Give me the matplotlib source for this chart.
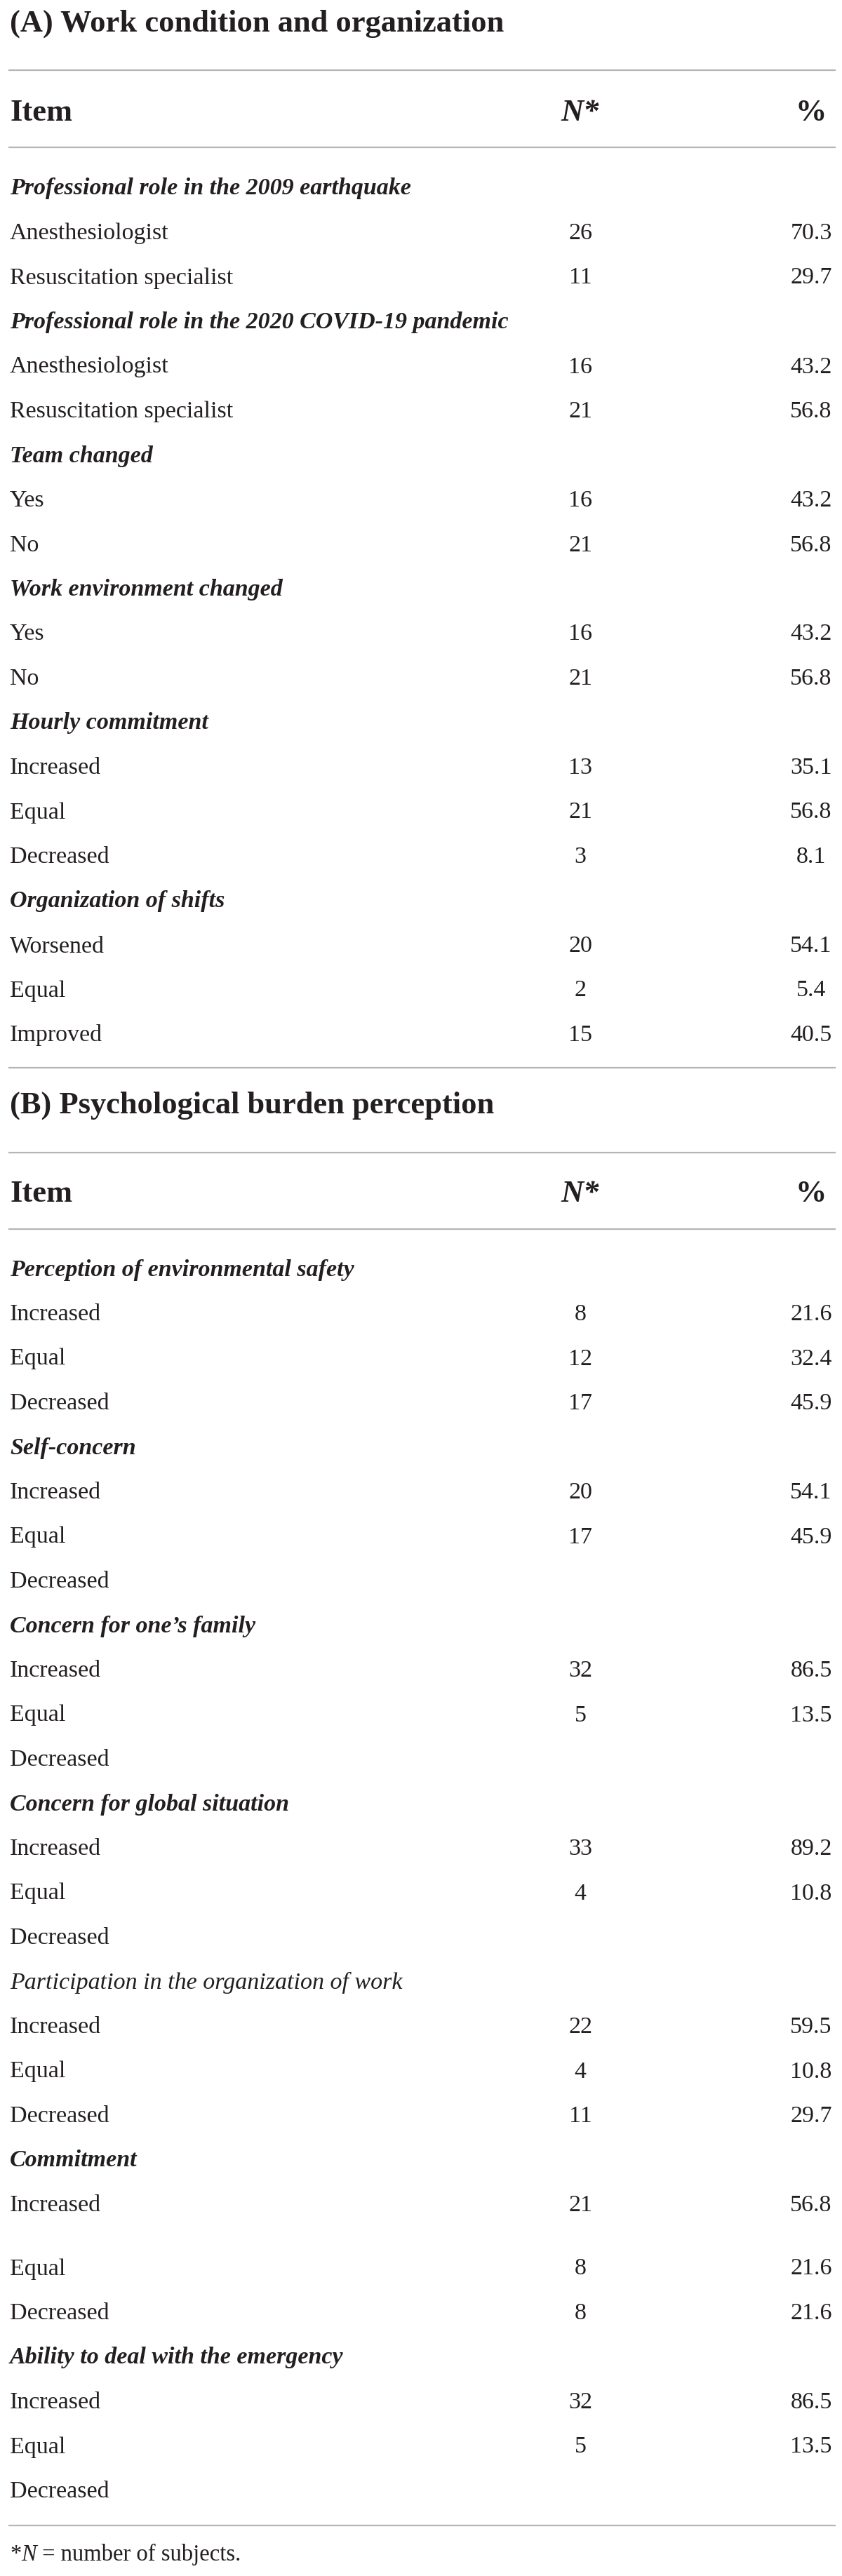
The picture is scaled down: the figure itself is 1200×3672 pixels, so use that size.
import matplotlib
matplotlib.use("Agg")
import matplotlib.pyplot as plt

# ---------------- data ----------------
title_a = "(A) Work condition and organization"
title_b = "(B) Psychological burden perception"
header_cols = ["Item", "N*", "%"]

a_groups = [
    "Professional role in the 2009 earthquake",
    "Professional role in the 2020 COVID-19 pandemic",
    "Team changed",
    "Work environment changed",
    "Hourly commitment",
    "Organization of shifts",
]
a_group_bold = [True, True, True, True, True, True]
a_levels = [
    ["Anesthesiologist", "Resuscitation specialist"],
    ["Anesthesiologist", "Resuscitation specialist"],
    ["Yes", "No"],
    ["Yes", "No"],
    ["Increased", "Equal", "Decreased"],
    ["Worsened", "Equal", "Improved"],
]
a_n = [[26, 11], [16, 21], [16, 21], [16, 21], [13, 21, 3], [20, 2, 15]]
a_pct = [[70.3, 29.7], [43.2, 56.8], [43.2, 56.8], [43.2, 56.8],
         [35.1, 56.8, 8.1], [54.1, 5.4, 40.5]]

b_groups = [
    "Perception of environmental safety",
    "Self-concern",
    "Concern for one\u2019s family",
    "Concern for global situation",
    "Participation in the organization of work",
    "Commitment",
    "Ability to deal with the emergency",
]
b_group_bold = [True, True, True, True, False, True, True]
b_levels = [["Increased", "Equal", "Decreased"]] * 7
b_n = [[8, 12, 17], [20, 17, None], [32, 5, None], [33, 4, None],
       [22, 4, 11], [21, 8, 8], [32, 5, None]]
b_pct = [[21.6, 32.4, 45.9], [54.1, 45.9, None], [86.5, 13.5, None],
         [89.2, 10.8, None], [59.5, 10.8, 29.7], [56.8, 21.6, 21.6],
         [86.5, 13.5, None]]
# extra vertical space before one row (group index, level index)
b_extra_gap = {(5, 1): 27}

footnote = ["*", "N", " = number of subjects."]

# ---------------- layout / style ----------------
W, H = 1200, 3672
DPI = 100
FONT = "Liberation Serif"
TXT = "#231f20"
LINE = "#b5b5b5"
LW = 1.6
X_LEFT = 14
X_N = 827
X_PCT = 1156
LINE_X0, LINE_X1 = 12, 1191
ROW_H = 63.5
BODY = 24.5
HEAD = 32

fig = plt.figure(figsize=(W / DPI, H / DPI), dpi=DPI)
ax = fig.add_axes([0, 0, 1, 1])
ax.set_xlim(0, W)
ax.set_ylim(H, 0)
ax.axis("off")


def hline(y):
    ax.plot([LINE_X0, LINE_X1], [y, y], color=LINE, lw=LW, solid_capstyle="butt")


def txt(x, y, s, ha="left", size=BODY, weight="normal", style="normal"):
    return ax.text(x, y, s, ha=ha, va="baseline", fontsize=size,
                   fontweight=weight, fontstyle=style, family=FONT, color=TXT)


def header(y):
    txt(X_LEFT, y, header_cols[0], size=HEAD, weight="bold")
    txt(X_N, y, header_cols[1], ha="center", size=HEAD, weight="bold", style="italic")
    txt(X_PCT, y, header_cols[2], ha="center", size=HEAD, weight="bold")


def section(y0, groups, bold, levels, ns, pcts, extra=None):
    extra = extra or {}
    y = y0
    for gi, g in enumerate(groups):
        txt(X_LEFT, y, g, weight="bold" if bold[gi] else "normal", style="italic")
        y += ROW_H
        for li, lev in enumerate(levels[gi]):
            y += extra.get((gi, li), 0)
            txt(X_LEFT, y, lev)
            n = ns[gi][li]
            p = pcts[gi][li]
            if n is not None:
                txt(X_N, y, str(n), ha="center")
            if p is not None:
                txt(X_PCT, y, f"{p:.1f}", ha="center")
            y += ROW_H
    return y - ROW_H


# Section A
txt(X_LEFT, 45, title_a, size=HEAD, weight="bold")
hline(100)
header(172)
hline(210)
section(277.5, a_groups, a_group_bold, a_levels, a_n, a_pct)
hline(1522)

# Section B
txt(X_LEFT, 1587, title_b, size=HEAD, weight="bold")
hline(1643)
header(1713)
hline(1752)
section(1818.5, b_groups, b_group_bold, b_levels, b_n, b_pct, b_extra_gap)
hline(3600)

# Footnote
renderer = fig.canvas.get_renderer()
x = X_LEFT
styles = ["normal", "italic", "normal"]
for piece, st in zip(footnote, styles):
    t = txt(x, 3650, piece, size=23.5, style=st)
    bb = t.get_window_extent(renderer=renderer)
    x += bb.width

fig.savefig("out.png", dpi=DPI, facecolor="white")
